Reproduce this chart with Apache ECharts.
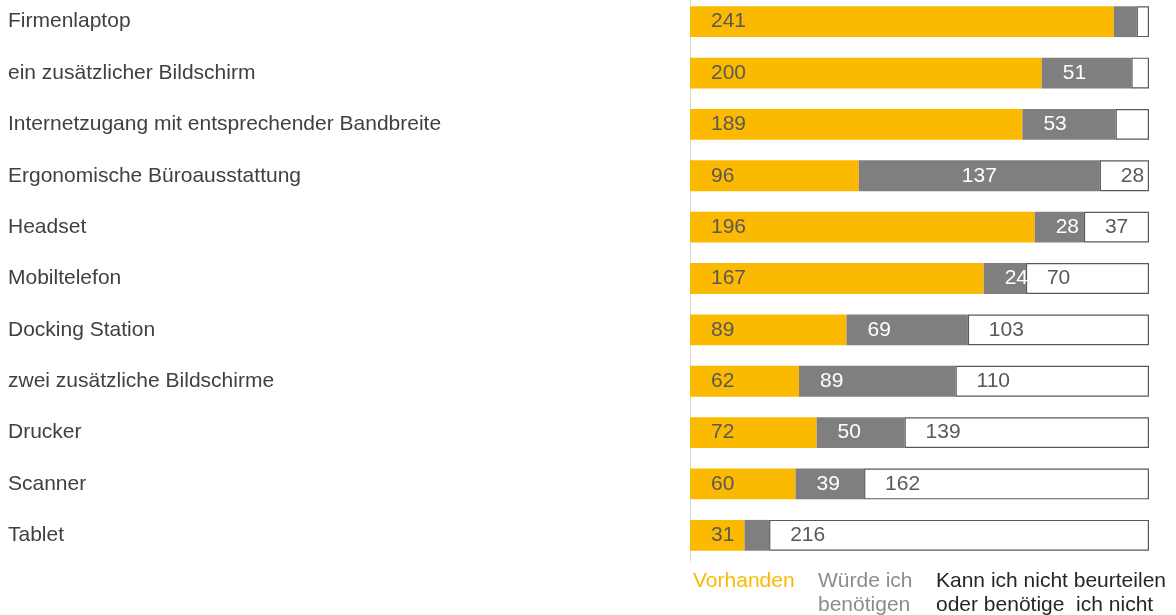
<!DOCTYPE html>
<html>
<head>
<meta charset="utf-8">
<script src="https://cdn.jsdelivr.net/npm/echarts@6/dist/echarts.min.js"></script>
<style>
html,body{margin:0;padding:0;background:#fff;overflow:hidden;}
#chart{position:absolute;left:0;top:-4px;width:1176px;height:619px;}
</style>
</head>
<body>
<div id="chart"></div>
<script>
const categories = [
  'Firmenlaptop',
  'ein zusätzlicher Bildschirm',
  'Internetzugang mit entsprechender Bandbreite',
  'Ergonomische Büroausstattung',
  'Headset',
  'Mobiltelefon',
  'Docking Station',
  'zwei zusätzliche Bildschirme',
  'Drucker',
  'Scanner',
  'Tablet'
];
const seriesNames = ['Vorhanden', 'Würde ich\nbenötigen', 'Kann ich nicht beurteilen\noder benötige  ich nicht'];
const vorhanden = [241, 200, 189, 96, 196, 167, 89, 62, 72, 60, 31];
const benoetigen = [13, 51, 53, 137, 28, 24, 69, 89, 50, 39, 14];
const nichtBeurteilen = [7, 10, 19, 28, 37, 70, 103, 110, 139, 162, 216];
const totalMax = 261;

const FONT = '"Liberation Sans", Arial, sans-serif';
const chart = echarts.init(document.getElementById('chart'), null, {renderer: 'canvas'});

function fmt(p) { return p.value >= 20 ? String(p.value) : ''; }

const greyData = benoetigen.map((v, i) => i === 3 ? {value: v, label: {position: 'inside'}} : v);

const legendBase = {
  orient: 'vertical', top: 573, padding: 0, itemWidth: 0, itemHeight: 0,
  icon: 'none', selectedMode: false
};

chart.setOption({
  animation: false,
  backgroundColor: '#ffffff',
  grid: {left: 690, right: 27, top: 0, bottom: 54, containLabel: false},
  xAxis: {type: 'value', min: 0, max: totalMax, show: false},
  yAxis: {
    type: 'category', data: categories, inverse: true,
    axisLine: {show: true, lineStyle: {color: '#D9D9D9', width: 1}},
    axisTick: {show: false},
    axisLabel: {align: 'left', margin: 682, color: '#404040', fontSize: 21, fontFamily: FONT}
  },
  legend: [
    Object.assign({}, legendBase, {left: 688, data: [{name: seriesNames[0], textStyle: {color: '#FBBA00'}}],
      textStyle: {fontSize: 21, fontFamily: FONT, lineHeight: 24}}),
    Object.assign({}, legendBase, {left: 813, data: [{name: seriesNames[1], textStyle: {color: '#8C8C8C'}}],
      textStyle: {fontSize: 21, fontFamily: FONT, lineHeight: 24}}),
    Object.assign({}, legendBase, {left: 931, data: [{name: seriesNames[2], textStyle: {color: '#262626'}}],
      textStyle: {fontSize: 21, fontFamily: FONT, lineHeight: 24}})
  ],
  series: [
    {
      name: seriesNames[0], type: 'bar', stack: 'a', data: vorhanden,
      barCategoryGap: '40%',
      itemStyle: {color: '#FBBA00'},
      label: {show: true, position: 'insideLeft', distance: 21, color: '#595959', fontSize: 21, fontFamily: FONT, formatter: fmt}
    },
    {
      name: seriesNames[1], type: 'bar', stack: 'a', data: greyData,
      itemStyle: {color: '#7F7F7F'},
      label: {show: true, position: 'insideLeft', distance: 21, color: '#ffffff', fontSize: 21, fontFamily: FONT, formatter: fmt}
    },
    {
      name: seriesNames[2], type: 'bar', stack: 'a', data: nichtBeurteilen,
      itemStyle: {color: '#ffffff', borderColor: '#595959', borderWidth: 1.2},
      label: {show: true, position: 'insideLeft', distance: 21, color: '#595959', fontSize: 21, fontFamily: FONT, formatter: fmt}
    }
  ]
});
</script>
</body>
</html>
